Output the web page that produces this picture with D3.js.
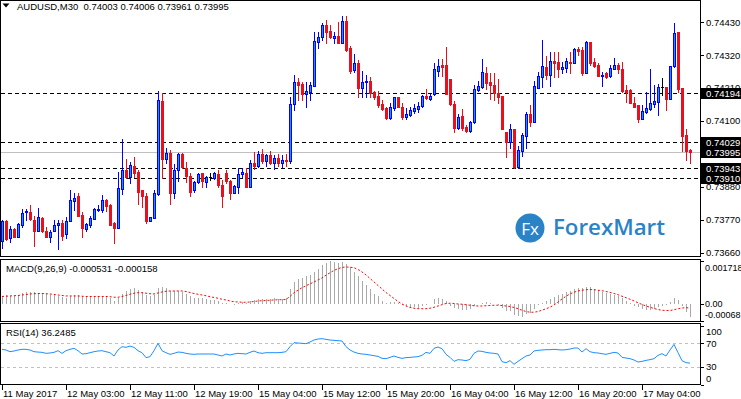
<!DOCTYPE html>
<html lang="en">
<head>
<meta charset="UTF-8">
<title>AUDUSD,M30</title>
<style>
    body { margin: 0; background: #fff; }
    svg { display: block; }
    text { font-family: "Liberation Sans", Arial, sans-serif; font-size: 9.5px; fill: #000; }
    .wick, .bar { shape-rendering: crispEdges; }
    .frame { fill: none; stroke: #000; stroke-width: 1; shape-rendering: crispEdges; }
</style>
</head>
<body>
<script src="https://d3js.org/d3.v7.min.js"></script>
<script>

// AUDUSD M30 candles, 11 May 19:00 .. 17 May 2017
var opens = [
    0.73700,0.73766,0.73708,0.73740,0.73714,0.73753,0.73796,0.73796,0.73770,0.73731,
    0.73775,0.73731,0.73714,0.73731,0.73751,0.73759,0.73722,0.73767,0.73834,0.73850,
    0.73786,0.73740,0.73754,0.73774,0.73803,0.73803,0.73835,0.73820,0.73759,0.73744,
    0.73872,0.73937,0.73914,0.73950,0.73930,0.73868,0.73850,0.73765,0.73775,0.73857,
    0.74167,0.73973,0.73994,0.73858,0.73937,0.73990,0.73943,0.73917,0.73868,0.73897,
    0.73926,0.73897,0.73914,0.73911,0.73923,0.73887,0.73926,0.73901,0.73861,0.73881,
    0.73922,0.73928,0.73881,0.73960,0.73950,0.73990,0.73965,0.73985,0.73960,0.73975,
    0.73960,0.73970,0.73965,0.74156,0.74231,0.74224,0.74191,0.74198,0.74218,0.74365,
    0.74382,0.74421,0.74401,0.74377,0.74384,0.74362,0.74434,0.74343,0.74271,0.74295,
    0.74210,0.74230,0.74234,0.74198,0.74184,0.74157,0.74143,0.74109,0.74143,0.74180,
    0.74146,0.74113,0.74120,0.74134,0.74139,0.74150,0.74185,0.74174,0.74190,0.74268,
    0.74287,0.74287,0.74240,0.74157,0.74076,0.74117,0.74081,0.74067,0.74098,0.74204,
    0.74215,0.74260,0.74231,0.74221,0.74193,0.74184,0.74063,0.74031,0.74074,0.73948,
    0.74001,0.74051,0.74123,0.74098,0.74212,0.74248,0.74282,0.74254,0.74301,0.74298,
    0.74274,0.74278,0.74298,0.74295,0.74340,0.74337,0.74262,0.74363,0.74297,0.74287,
    0.74252,0.74260,0.74252,0.74275,0.74287,0.74274,0.74204,0.74204,0.74161,0.74154,
    0.74108,0.74131,0.74139,0.74158,0.74164,0.74213,0.74213,0.74174,0.74284,0.74397,
    0.74210,0.74054,0.74003
];
var highs = [
    0.73770,0.73770,0.73750,0.73744,0.73759,0.73806,0.73806,0.73820,0.73783,0.73809,
    0.73779,0.73747,0.73736,0.73770,0.73770,0.73770,0.73779,0.73870,0.73859,0.73859,
    0.73797,0.73759,0.73781,0.73809,0.73819,0.73853,0.73839,0.73823,0.73764,0.73931,
    0.74040,0.73972,0.73962,0.73979,0.73937,0.73870,0.73859,0.73779,0.73870,0.74201,
    0.74193,0.74011,0.74004,0.73957,0.73994,0.73994,0.73963,0.73926,0.73900,0.73926,
    0.73926,0.73917,0.73926,0.73931,0.73937,0.73903,0.73937,0.73903,0.73887,0.73942,
    0.73942,0.73942,0.73970,0.73995,0.74000,0.74005,0.73990,0.74000,0.73985,0.73990,
    0.73985,0.73990,0.74181,0.74254,0.74244,0.74232,0.74232,0.74232,0.74397,0.74398,
    0.74428,0.74438,0.74421,0.74399,0.74432,0.74452,0.74452,0.74351,0.74324,0.74304,
    0.74267,0.74254,0.74248,0.74201,0.74202,0.74170,0.74146,0.74159,0.74182,0.74182,
    0.74161,0.74143,0.74148,0.74157,0.74165,0.74187,0.74206,0.74191,0.74293,0.74306,
    0.74306,0.74349,0.74240,0.74167,0.74123,0.74140,0.74087,0.74101,0.74221,0.74235,
    0.74307,0.74281,0.74260,0.74261,0.74241,0.74184,0.74063,0.74090,0.74074,0.74015,
    0.74059,0.74131,0.74154,0.74234,0.74265,0.74371,0.74317,0.74332,0.74330,0.74330,
    0.74298,0.74312,0.74330,0.74343,0.74349,0.74349,0.74369,0.74363,0.74310,0.74293,
    0.74265,0.74265,0.74287,0.74310,0.74295,0.74296,0.74221,0.74207,0.74181,0.74154,
    0.74154,0.74198,0.74274,0.74220,0.74223,0.74243,0.74213,0.74284,0.74429,0.74399,
    0.74210,0.74074,0.74006
];
var lows = [
    0.73675,0.73703,0.73697,0.73712,0.73712,0.73745,0.73770,0.73770,0.73684,0.73731,
    0.73729,0.73712,0.73697,0.73731,0.73672,0.73703,0.73708,0.73767,0.73803,0.73781,
    0.73713,0.73731,0.73747,0.73772,0.73799,0.73797,0.73799,0.73753,0.73694,0.73744,
    0.73857,0.73909,0.73892,0.73914,0.73824,0.73814,0.73759,0.73765,0.73775,0.73853,
    0.73910,0.73960,0.73823,0.73842,0.73898,0.73942,0.73897,0.73851,0.73864,0.73894,
    0.73881,0.73881,0.73903,0.73907,0.73881,0.73814,0.73894,0.73839,0.73859,0.73859,
    0.73914,0.73881,0.73878,0.73940,0.73945,0.73960,0.73950,0.73955,0.73940,0.73950,
    0.73945,0.73950,0.73960,0.74137,0.74170,0.74170,0.74148,0.74170,0.74218,0.74345,
    0.74371,0.74361,0.74377,0.74360,0.74360,0.74360,0.74334,0.74262,0.74265,0.74179,
    0.74181,0.74181,0.74179,0.74174,0.74146,0.74137,0.74107,0.74107,0.74137,0.74146,
    0.74107,0.74107,0.74117,0.74128,0.74131,0.74148,0.74173,0.74170,0.74187,0.74251,
    0.74251,0.74190,0.74154,0.74064,0.74073,0.74070,0.74064,0.74064,0.74095,0.74202,
    0.74212,0.74207,0.74175,0.74170,0.74160,0.74072,0.73980,0.74009,0.73942,0.73942,
    0.73984,0.74011,0.74085,0.74098,0.74210,0.74215,0.74240,0.74218,0.74248,0.74248,
    0.74260,0.74265,0.74262,0.74293,0.74321,0.74254,0.74260,0.74287,0.74282,0.74251,
    0.74218,0.74245,0.74248,0.74273,0.74262,0.74198,0.74165,0.74159,0.74146,0.74098,
    0.74107,0.74126,0.74137,0.74148,0.74120,0.74187,0.74137,0.74174,0.74282,0.74198,
    0.74000,0.73970,0.73961
];
var closes = [
    0.73767,0.73705,0.73740,0.73714,0.73755,0.73792,0.73800,0.73772,0.73731,0.73779,
    0.73731,0.73714,0.73729,0.73752,0.73759,0.73716,0.73766,0.73835,0.73844,0.73783,
    0.73744,0.73755,0.73775,0.73805,0.73807,0.73835,0.73817,0.73753,0.73744,0.73876,
    0.73937,0.73914,0.73952,0.73928,0.73864,0.73848,0.73767,0.73779,0.73861,0.74171,
    0.73973,0.73994,0.73858,0.73937,0.73990,0.73948,0.73917,0.73864,0.73897,0.73923,
    0.73898,0.73914,0.73914,0.73926,0.73887,0.73848,0.73900,0.73859,0.73883,0.73923,
    0.73929,0.73881,0.73960,0.73950,0.73990,0.73965,0.73985,0.73960,0.73975,0.73960,
    0.73970,0.73965,0.74157,0.74232,0.74221,0.74191,0.74201,0.74221,0.74368,0.74381,
    0.74421,0.74399,0.74380,0.74384,0.74362,0.74434,0.74337,0.74268,0.74295,0.74210,
    0.74232,0.74235,0.74195,0.74180,0.74154,0.74139,0.74109,0.74146,0.74180,0.74148,
    0.74113,0.74124,0.74137,0.74143,0.74150,0.74185,0.74176,0.74185,0.74273,0.74285,
    0.74282,0.74190,0.74157,0.74076,0.74115,0.74076,0.74067,0.74098,0.74206,0.74217,
    0.74263,0.74228,0.74220,0.74193,0.74182,0.74072,0.74031,0.74074,0.73948,0.74003,
    0.74054,0.74123,0.74098,0.74217,0.74251,0.74284,0.74254,0.74301,0.74295,0.74274,
    0.74280,0.74301,0.74295,0.74340,0.74335,0.74260,0.74365,0.74295,0.74285,0.74252,
    0.74254,0.74248,0.74278,0.74286,0.74273,0.74202,0.74198,0.74161,0.74148,0.74108,
    0.74135,0.74143,0.74159,0.74167,0.74214,0.74213,0.74174,0.74284,0.74393,0.74207,
    0.74050,0.74001,0.73995
];

// MACD(9,26,9): main histogram and signal
var macdMain = [
    0.00033,0.00034,0.00030,0.00032,0.00035,0.00042,0.00047,0.00048,0.00046,0.00045,
    0.00043,0.00040,0.00036,0.00035,0.00030,0.00027,0.00025,0.00033,0.00036,0.00035,
    0.00030,0.00027,0.00027,0.00030,0.00031,0.00033,0.00031,0.00024,0.00013,0.00022,
    0.00040,0.00050,0.00058,0.00062,0.00056,0.00048,0.00035,0.00030,0.00035,0.00062,
    0.00066,0.00064,0.00052,0.00050,0.00052,0.00048,0.00040,0.00030,0.00025,0.00024,
    0.00022,0.00020,0.00016,0.00015,0.00012,0.00005,0.00004,0.00000,-0.00003,0.00003,
    0.00006,0.00005,0.00010,0.00016,0.00018,0.00020,0.00021,0.00020,0.00022,0.00021,
    0.00020,0.00022,0.00060,0.00088,0.00098,0.00105,0.00110,0.00115,0.00128,0.00140,
    0.00155,0.00162,0.00170,0.00168,0.00165,0.00166,0.00160,0.00148,0.00128,0.00110,
    0.00090,0.00075,0.00060,0.00040,0.00030,0.00012,0.00005,0.00006,0.00008,0.00004,
    -0.00005,-0.00010,-0.00012,-0.00014,-0.00015,-0.00010,-0.00005,-0.00002,0.00018,0.00022,
    0.00020,0.00010,-0.00008,-0.00018,-0.00020,-0.00024,-0.00026,-0.00022,-0.00008,-0.00002,
    0.00004,0.00006,0.00003,0.00000,-0.00004,-0.00016,-0.00028,-0.00030,-0.00045,-0.00050,
    -0.00052,-0.00040,-0.00035,-0.00020,-0.00006,0.00004,0.00012,0.00020,0.00028,0.00034,
    0.00040,0.00046,0.00052,0.00060,0.00064,0.00062,0.00068,0.00066,0.00060,0.00054,
    0.00048,0.00044,0.00040,0.00036,0.00032,0.00024,0.00012,0.00002,-0.00008,-0.00014,
    -0.00022,-0.00026,-0.00024,-0.00020,-0.00014,-0.00010,-0.00004,0.00008,0.00022,0.00016,
    -0.00010,-0.00034,-0.000531
];
var macdSignal = [
    0.00030,0.00031,0.00032,0.00033,0.00034,0.00036,0.00038,0.00040,0.00041,0.00042,
    0.00042,0.00041,0.00040,0.00038,0.00036,0.00034,0.00032,0.00032,0.00032,0.00032,
    0.00031,0.00030,0.00030,0.00030,0.00030,0.00030,0.00030,0.00029,0.00027,0.00027,
    0.00030,0.00034,0.00039,0.00043,0.00045,0.00045,0.00043,0.00041,0.00040,0.00044,
    0.00048,0.00051,0.00052,0.00052,0.00052,0.00052,0.00050,0.00046,0.00042,0.00039,
    0.00036,0.00033,0.00029,0.00026,0.00023,0.00019,0.00016,0.00012,0.00009,0.00008,
    0.00007,0.00007,0.00008,0.00010,0.00012,0.00013,0.00014,0.00015,0.00016,0.00017,
    0.00017,0.00018,0.00030,0.00045,0.00055,0.00065,0.00073,0.00080,0.00088,0.00096,
    0.00104,0.00115,0.00125,0.00134,0.00141,0.00146,0.00148,0.00147,0.00145,0.00138,
    0.00128,0.00116,0.00102,0.00088,0.00074,0.00060,0.00046,0.00034,0.00022,0.00010,
    0.00000,-0.00008,-0.00014,-0.00017,-0.00019,-0.00019,-0.00019,-0.00017,-0.00013,-0.00008,
    -0.00003,0.00002,0.00003,0.00002,0.00000,-0.00001,-0.00003,-0.00005,-0.00007,-0.00008,
    -0.00008,-0.00007,-0.00006,-0.00005,-0.00005,-0.00006,-0.00008,-0.00010,-0.00014,-0.00019,
    -0.00025,-0.00030,-0.00033,-0.00033,-0.00030,-0.00025,-0.00019,-0.00013,-0.00004,0.00008,
    0.00020,0.00031,0.00040,0.00047,0.00052,0.00055,0.00057,0.00058,0.00057,0.00055,
    0.00053,0.00050,0.00046,0.00042,0.00037,0.00031,0.00025,0.00019,0.00012,0.00005,
    -0.00002,-0.00008,-0.00013,-0.00018,-0.00022,-0.00025,-0.00026,-0.00026,-0.00023,-0.00019,
    -0.00016,-0.00015,-0.000158
];

// RSI(14)
var rsiValues = [
    59.6,58.5,55.6,56.8,58.5,59.6,59.6,58.5,55.6,55.0,
    54.5,52.8,53.4,54.5,57.3,52.8,57.3,59.6,61.3,57.3,
    51.7,52.2,53.9,55.6,56.8,57.3,55.6,53.9,48.3,58.5,
    64.1,63.0,65.2,63.0,57.3,53.9,45.5,47.2,57.3,69.8,
    57.3,53.9,51.1,52.8,55.0,54.5,52.8,51.7,51.1,51.7,
    51.7,51.7,51.7,51.7,50.0,48.3,51.7,50.0,51.7,52.8,
    52.2,51.7,54.5,56.8,53.9,52.8,53.9,53.9,53.9,53.9,
    54.5,55.6,64.1,70.9,70.3,69.8,69.2,72.0,75.4,77.1,
    77.7,76.5,75.4,74.8,74.3,73.7,64.1,58.5,55.0,52.8,
    51.7,51.1,50.0,48.8,47.7,44.3,43.8,46.0,48.3,46.0,
    44.3,45.5,46.0,46.6,47.2,49.4,54.5,52.8,61.3,63.5,
    60.7,51.1,46.0,39.2,42.1,41.5,40.4,42.6,52.8,56.8,
    56.2,54.5,53.4,52.8,51.7,38.7,37.0,40.4,34.2,39.2,
    43.8,48.3,50.0,56.8,57.9,58.5,59.0,59.0,59.6,59.0,
    58.5,59.0,60.1,61.8,61.8,55.0,60.7,55.6,53.9,53.4,
    52.2,51.1,52.8,54.5,53.4,46.0,44.9,43.8,41.5,38.1,
    39.2,40.9,42.1,43.8,49.4,52.2,48.3,58.5,68.0,53.9,
    40.4,37.0,36.2485
];

var timeLabels = ["11 May 2017", "12 May 03:00", "12 May 11:00", "12 May 19:00", "15 May 04:00",
    "15 May 12:00", "15 May 20:00", "16 May 04:00", "16 May 12:00", "16 May 20:00", "17 May 04:00"];
var timeBars = [0, 16, 32, 48, 64, 80, 96, 112, 128, 144, 160];

var priceTicks = [0.74430, 0.74320, 0.74210, 0.74100, 0.73990, 0.73880, 0.73770, 0.73660];
var hLines = [0.74194, 0.74029, 0.73943, 0.73910];
var bidPrice = 0.73995;
var macdTicks = [0.001718, 0, -0.00068];
var macdTickText = ["0.001718", "0.00", "-0.00068"];
var rsiTicks = [100, 70, 30, 0];
var rsiLevels = [70, 30];

var width = 741, height = 399,
    plotRight = 700;

var x = d3.scaleLinear().domain([0, 172]).range([2, 690]);
var y = d3.scaleLinear().domain([0.7366, 0.7443]).range([252.7, 22.3]);
var yMacd = d3.scaleLinear().domain([-0.00068, 0.001718]).range([321, 261]);
var yRsi = d3.scaleLinear().domain([0, 100]).range([384.5, 325.5]);
var fmt5 = d3.format(".5f");

var svg = d3.select("body").append("svg")
    .attr("width", width)
    .attr("height", height);

svg.append("rect").attr("width", width).attr("height", height).attr("fill", "#fff");

// ---- watermark logo
var logo = svg.append("g").attr("class", "logo");
logo.append("circle").attr("cx", 530).attr("cy", 228).attr("r", 14.5).attr("fill", "#2a83c6");
logo.append("text").attr("x", 530).attr("y", 234.5).attr("text-anchor", "middle")
    .style("font-family", "'Open Sans', Arial, sans-serif").style("font-size", "17px")
    .style("fill", "#fff").text("Fx");
logo.append("text").attr("x", 553).attr("y", 235)
    .attr("textLength", 112).attr("lengthAdjust", "spacingAndGlyphs")
    .style("font-family", "'Open Sans', Arial, sans-serif").style("font-size", "21px")
    .style("font-weight", "600").style("fill", "#2a83c6").text("ForexMart");

// ---- panel frames
svg.append("rect").attr("class", "frame").attr("x", 0.5).attr("y", 0.5).attr("width", plotRight).attr("height", 256);
svg.append("rect").attr("class", "frame").attr("x", 0.5).attr("y", 259.5).attr("width", plotRight).attr("height", 61.5);
svg.append("rect").attr("class", "frame").attr("x", 0.5).attr("y", 323.5).attr("width", plotRight).attr("height", 61);

// ---- main chart
var main = svg.append("g");

main.selectAll(".hline").data(hLines).enter().append("line")
    .attr("class", "hline")
    .attr("x1", 1).attr("x2", plotRight)
    .attr("y1", function(d) { return Math.round(y(d)) + 0.5; })
    .attr("y2", function(d) { return Math.round(y(d)) + 0.5; })
    .attr("stroke", "#000").attr("stroke-dasharray", "4,3")
    .style("shape-rendering", "crispEdges");

main.append("line")
    .attr("x1", 1).attr("x2", plotRight)
    .attr("y1", Math.round(y(bidPrice)) + 0.5).attr("y2", Math.round(y(bidPrice)) + 0.5)
    .attr("stroke", "#c0c0c0").style("shape-rendering", "crispEdges");

var bars = d3.range(closes.length);

function candleColor(i) {
    if (closes[i] > opens[i]) return "#0000ff";
    if (closes[i] < opens[i]) return "#e8101c";
    return "#000";
}

main.selectAll(".wick").data(bars).enter().append("line")
    .attr("class", "wick")
    .attr("x1", function(i) { return Math.round(x(i)) + 0.5; })
    .attr("x2", function(i) { return Math.round(x(i)) + 0.5; })
    .attr("y1", function(i) { return Math.round(y(highs[i])); })
    .attr("y2", function(i) { return Math.round(y(lows[i])) + 1; })
    .attr("stroke", candleColor);

main.selectAll(".body").data(bars).enter().append("rect")
    .attr("class", "bar")
    .attr("x", function(i) { return Math.round(x(i)) - (closes[i] > opens[i] ? 0.5 : 1); })
    .attr("width", function(i) { return closes[i] > opens[i] ? 2 : 3; })
    .attr("y", function(i) {
        var t = Math.round(y(Math.max(opens[i], closes[i])));
        return closes[i] > opens[i] ? t + 0.5 : t;
    })
    .attr("height", function(i) {
        var t = Math.round(y(Math.max(opens[i], closes[i])));
        var b = Math.round(y(Math.min(opens[i], closes[i])));
        return closes[i] > opens[i] ? Math.max(b - t, 1) : Math.max(b - t + 1, 1);
    })
    .attr("fill", function(i) { return closes[i] > opens[i] ? "#1e90ff" : candleColor(i); })
    .attr("stroke", function(i) { return closes[i] > opens[i] ? "#0000ff" : "none"; });

// header
svg.append("path").attr("d", "M2.5,3.5L9.5,3.5L6,7.5Z").attr("fill", "#000");
svg.append("text").attr("x", 17).attr("y", 10)
    .text("AUDUSD,M30  0.74003 0.74006 0.73961 0.73995").style("white-space", "pre");

// price axis
var pAxis = svg.append("g");
pAxis.selectAll("line").data(priceTicks).enter().append("line")
    .attr("x1", plotRight + 1).attr("x2", plotRight + 4)
    .attr("y1", function(d) { return Math.round(y(d)) + 0.5; })
    .attr("y2", function(d) { return Math.round(y(d)) + 0.5; })
    .attr("stroke", "#000");
pAxis.selectAll("text").data(priceTicks).enter().append("text")
    .attr("x", 706).attr("y", function(d) { return y(d); }).attr("dy", "0.35em")
    .text(fmt5);

var levelTags = svg.append("g");
var tagData = hLines.concat([bidPrice]);
levelTags.selectAll("rect").data(tagData).enter().append("rect")
    .attr("x", 701).attr("width", 40)
    .attr("y", function(d) { return Math.round(y(d)) - 5; })
    .attr("height", 11).attr("fill", "#000");
levelTags.selectAll("text").data(tagData).enter().append("text")
    .attr("x", 706).attr("y", function(d) { return Math.round(y(d)) + 0.5; }).attr("dy", "0.35em")
    .style("fill", "#fff").text(fmt5);

// ---- MACD
var macd = svg.append("g");
macd.selectAll("line").data(bars).enter().append("line")
    .attr("class", "bar")
    .attr("x1", function(i) { return Math.round(x(i)) + 0.5; })
    .attr("x2", function(i) { return Math.round(x(i)) + 0.5; })
    .attr("y1", Math.round(yMacd(0)))
    .attr("y2", function(i) { return Math.round(yMacd(macdMain[i])); })
    .attr("stroke", "#a9a9a9");

macd.append("path")
    .datum(macdSignal)
    .attr("fill", "none").attr("stroke", "#ff0000").attr("stroke-dasharray", "2,2")
    .attr("d", d3.line().x(function(d, i) { return x(i); }).y(function(d) { return yMacd(d); }));

svg.append("text").attr("x", 6).attr("y", 272)
    .text("MACD(9,26,9) -0.000531 -0.000158");

svg.selectAll(".macdTick").data(macdTicks).enter().append("line")
    .attr("x1", plotRight + 1).attr("x2", plotRight + 4)
    .attr("y1", function(d) { return Math.round(yMacd(d)) + 0.5; })
    .attr("y2", function(d) { return Math.round(yMacd(d)) + 0.5; })
    .attr("stroke", "#000");
svg.selectAll(".macdLabel").data(macdTicks).enter().append("text")
    .attr("x", 705)
    .attr("y", function(d) { return Math.min(Math.max(yMacd(d), 267.5), 315); })
    .attr("dy", "0.35em")
    .style("font-size", "9px")
    .text(function(d, i) { return macdTickText[i]; });

// ---- RSI
var rsi = svg.append("g");
rsi.selectAll("line").data(rsiLevels).enter().append("line")
    .attr("x1", 1).attr("x2", plotRight)
    .attr("y1", function(d) { return Math.round(yRsi(d)) + 0.5; })
    .attr("y2", function(d) { return Math.round(yRsi(d)) + 0.5; })
    .attr("stroke", "#c0c0c0").attr("stroke-dasharray", "3,3")
    .style("shape-rendering", "crispEdges");

rsi.append("path")
    .datum(rsiValues)
    .attr("fill", "none").attr("stroke", "#1e90ff").attr("stroke-width", 1)
    .attr("d", d3.line().x(function(d, i) { return x(i); }).y(function(d) { return yRsi(d); }));

svg.append("text").attr("x", 6).attr("y", 336).text("RSI(14) 36.2485");

svg.selectAll(".rsiTick").data(rsiTicks).enter().append("line")
    .attr("x1", plotRight + 1).attr("x2", plotRight + 4)
    .attr("y1", function(d) { return Math.round(yRsi(d)) + 0.5; })
    .attr("y2", function(d) { return Math.round(yRsi(d)) + 0.5; })
    .attr("stroke", "#000");
svg.selectAll(".rsiLabel").data(rsiTicks).enter().append("text")
    .attr("x", 706)
    .attr("y", function(d) { return Math.min(Math.max(yRsi(d), 331.5), 378.5); })
    .attr("dy", "0.35em")
    .text(function(d) { return d; });

// ---- time axis
var tAxis = svg.append("g");
tAxis.selectAll("line").data(timeBars).enter().append("line")
    .attr("x1", function(d) { return Math.round(x(d)) + 0.5; })
    .attr("x2", function(d) { return Math.round(x(d)) + 0.5; })
    .attr("y1", 385).attr("y2", 390)
    .attr("stroke", "#000").style("shape-rendering", "crispEdges");
tAxis.selectAll("text").data(timeBars).enter().append("text")
    .attr("x", function(d) { return x(d) + 1; })
    .attr("y", 397)
    .text(function(d, i) { return timeLabels[i]; });

</script>
</body>
</html>
